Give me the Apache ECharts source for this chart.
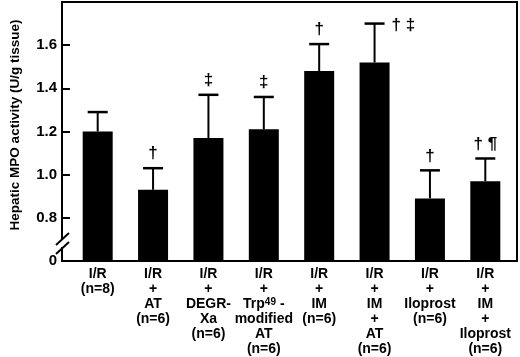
<!DOCTYPE html>
<html>
<head>
<meta charset="utf-8">
<script src="https://cdn.jsdelivr.net/npm/echarts@6/dist/echarts.min.js"></script>
<style>
html, body { margin: 0; width: 100%; height: 100%; background: #fff; }
#main { width: 520px; height: 357px; }
</style>
</head>
<body>
<div id="main"></div>
<script>
// group labels (rich text for the superscript)
var categories = [
  'I/R\n(n=8)',
  'I/R\n+\nAT\n(n=6)',
  'I/R\n+\nDEGR-\nXa\n(n=6)',
  'I/R\n+\nTrp{sup|49} -\nmodified\nAT\n(n=6)',
  'I/R\n+\nIM\n(n=6)',
  'I/R\n+\nIM\n+\nAT\n(n=6)',
  'I/R\n+\nIloprost\n(n=6)',
  'I/R\n+\nIM\n+\nIloprost\n(n=6)'
];
var means = [1.20, 0.93, 1.17, 1.21, 1.48, 1.52, 0.89, 0.97];
var upper = [1.29, 1.03, 1.37, 1.36, 1.605, 1.70, 1.02, 1.075];
var marks = ['', '\u2020', '\u2021', '\u2021', '\u2020', '\u2020 \u2021', '\u2020', '\u2020 \u00b6'];
var yTicks = { 0.6: '0', 0.8: '0.8', 1: '1.0', 1.2: '1.2', 1.4: '1.4', 1.6: '1.6' };

var font = "'Liberation Sans', Arial, Helvetica, sans-serif";
var chart = echarts.init(document.getElementById('main'));

var errData = means.map(function (m, i) { return [i, m, upper[i]]; });

chart.setOption({
  animation: false,
  grid: { left: 70, right: 7, top: 2, bottom: 96, outerBoundsMode: 'none', containLabel: false },
  xAxis: {
    type: 'category',
    data: categories,
    axisLine: { show: false },
    axisTick: { show: false },
    axisLabel: {
      interval: 0,
      margin: 6,
      color: '#000',
      fontFamily: font,
      fontWeight: 'bold',
      fontSize: 14,
      lineHeight: 15,
      rich: {
        sup: { fontSize: 10, fontWeight: 'bold', fontFamily: font, verticalAlign: 'top', lineHeight: 15, padding: [0, 0, 5, 0] }
      }
    }
  },
  yAxis: {
    type: 'value',
    min: 0.6,
    max: 1.8,
    interval: 0.2,
    offset: 8,
    name: 'Hepatic MPO activity (U/g tissue)',
    nameLocation: 'middle',
    nameGap: 40,
    nameTextStyle: { color: '#000', fontFamily: font, fontWeight: 'bold', fontSize: 13.5, padding: [0, 0, 0, 13] },
    axisLine: { show: false },
    axisTick: { show: true, inside: true, length: 8, lineStyle: { color: '#000', width: 2 } },
    splitLine: { show: false },
    axisLabel: {
      margin: 5,
      color: '#000',
      fontFamily: font,
      fontWeight: 'bold',
      fontSize: 15,
      formatter: function (v) {
        var k = Math.round(v * 10) / 10;
        return yTicks[k] !== undefined ? yTicks[k] : '';
      }
    }
  },
  series: [
    {
      type: 'bar',
      data: means,
      barWidth: 30,
      itemStyle: { color: '#000' },
      z: 2
    },
    {
      type: 'custom',
      data: errData,
      z: 3,
      renderItem: function (params, api) {
        var i = api.value(0);
        var top = api.coord([i, api.value(2)]);
        var base = api.coord([i, api.value(1)]);
        var x = top[0], y = top[1];
        var half = 10;
        var mark = marks[params.dataIndex];
        var side = params.dataIndex === 5;
        var children = [
          { type: 'line', shape: { x1: x, y1: base[1], x2: x, y2: y }, style: { stroke: '#000', lineWidth: 2 } },
          { type: 'line', shape: { x1: x - half, y1: y, x2: x + half, y2: y }, style: { stroke: '#000', lineWidth: 2.5 } }
        ];
        if (mark) {
          children.push({
            type: 'text',
            style: {
              text: mark,
              x: side ? x + 17 : x,
              y: side ? y + 2 : y - 6,
              align: side ? 'left' : 'center',
              verticalAlign: side ? 'middle' : 'bottom',
              font: 'bold 17px ' + font,
              fill: '#000'
            }
          });
        }
        return { type: 'group', children: children };
      }
    }
  ],
  graphic: [
    { type: 'rect', shape: { x: 62, y: 2, width: 455, height: 259 }, style: { fill: null, stroke: '#000', lineWidth: 2 }, z: 10 },
    { type: 'rect', shape: { x: 60, y: 240, width: 5, height: 7 }, style: { fill: '#fff' }, z: 11 },
    { type: 'line', shape: { x1: 56, y1: 245, x2: 69, y2: 233 }, style: { stroke: '#000', lineWidth: 2 }, z: 12 },
    { type: 'line', shape: { x1: 56, y1: 254, x2: 69, y2: 242 }, style: { stroke: '#000', lineWidth: 2 }, z: 12 }
  ]
});
</script>
</body>
</html>
